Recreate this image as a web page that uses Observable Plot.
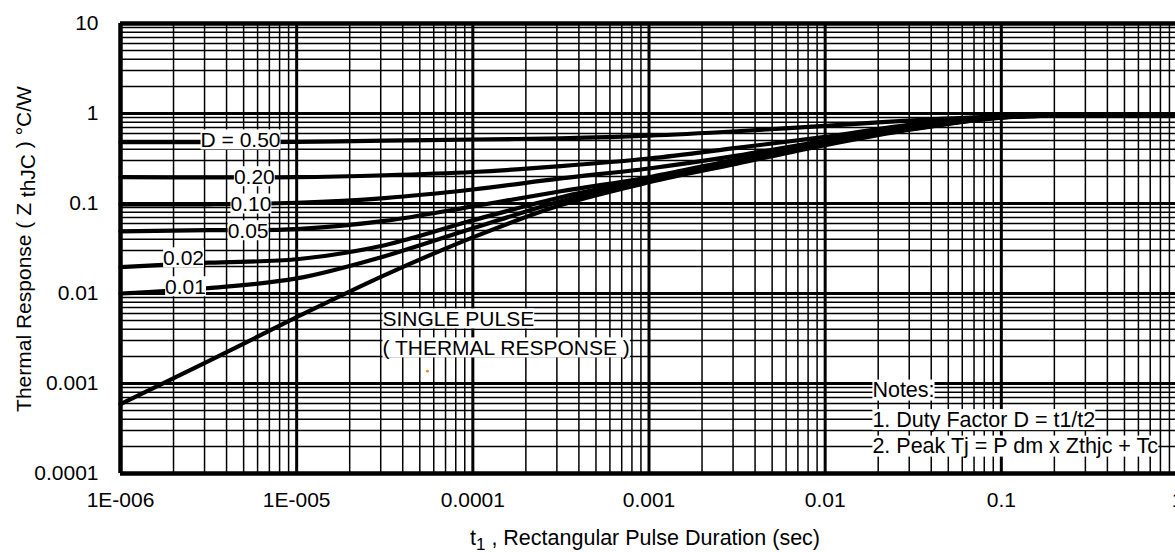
<!DOCTYPE html>
<html>
<head>
<meta charset="utf-8">
<script src="https://cdn.jsdelivr.net/npm/d3@7"></script>
<script src="https://cdn.jsdelivr.net/npm/@observablehq/plot@0.6"></script>
<style>
  html, body { margin: 0; padding: 0; background: #fff; overflow: hidden; }
  #chart { width: 1175px; height: 552px; overflow: hidden; }
</style>
</head>
<body>
<div id="chart"></div>
<script>
// ---- data ----
const tSec = [1e-6, 3.16e-6, 1e-5, 3.16e-5, 1e-4, 3.16e-4, 1e-3, 3.16e-3, 1e-2, 3.16e-2, 0.1, 0.316, 1];
const zD050 = [0.48, 0.48, 0.484, 0.50, 0.514, 0.53, 0.567, 0.635, 0.73, 0.84, 0.93, 0.955, 0.955];
const zD020 = [0.196, 0.195, 0.196, 0.206, 0.224, 0.26, 0.316, 0.415, 0.55, 0.76, 0.91, 0.955, 0.955];
const zD010 = [0.0975, 0.098, 0.102, 0.115, 0.143, 0.19, 0.245, 0.34, 0.50, 0.72, 0.91, 0.955, 0.955];
const zD005 = [0.049, 0.0505, 0.052, 0.064, 0.093, 0.137, 0.196, 0.31, 0.48, 0.70, 0.91, 0.955, 0.955];
const zD002 = [0.0196, 0.022, 0.024, 0.0344, 0.065, 0.1175, 0.186, 0.295, 0.468, 0.686, 0.91, 0.955, 0.955];
const zD001 = [0.01, 0.0115, 0.0147, 0.026, 0.053, 0.106, 0.177, 0.284, 0.457, 0.678, 0.905, 0.955, 0.955];
const zSingle = [0.00059, 0.00177, 0.00545, 0.016, 0.042, 0.096, 0.172, 0.277, 0.445, 0.669, 0.90, 0.955, 0.955];
const seriesNames = ["D = 0.50", "0.20", "0.10", "0.05", "0.02", "0.01", "SINGLE PULSE"];
const seriesValues = [zD050, zD020, zD010, zD005, zD002, zD001, zSingle];

// curve labels (text, anchor t, anchor Z)
const curveLabelText = ["D = 0.50", "0.20", "0.10", "0.05", "0.02", "0.01"];
const curveLabelT = [4.8e-6, 5.75e-6, 5.5e-6, 5.3e-6, 2.28e-6, 2.34e-6];
const curveLabelZ = [0.505, 0.197, 0.098, 0.0495, 0.0247, 0.0118];

// annotation texts
const singleText = ["SINGLE PULSE", "( THERMAL RESPONSE )"];
const singleT = [3.07e-5, 3.07e-5];
const singleZ = [0.00518, 0.00247];
const notesText = ["Notes:", "1. Duty Factor D = t1/t2", "2. Peak Tj = P dm x Zthjc + Tc"];
const notesT = [0.01854, 0.01854, 0.01854];
const notesZ = [0.000843, 0.000396, 0.000201];

// stray orange speck in the reference
const speckT = [5.52e-5];
const speckZ = [0.00137];

// axes
const xDecades = [1e-6, 1e-5, 1e-4, 1e-3, 1e-2, 1e-1, 1];
const xTickLabels = ["1E-006", "1E-005", "0.0001", "0.001", "0.01", "0.1", "1"];
const yDecades = [1e-4, 1e-3, 1e-2, 1e-1, 1, 10];
const yTickLabels = ["0.0001", "0.001", "0.01", "0.1", "1", "10"];

// ---- build tables ----
const rows = [];
seriesValues.forEach((vals, s) => vals.forEach((z, i) => rows.push({series: seriesNames[s], t: tSec[i], z})));
const curveLabels = curveLabelText.map((text, i) => ({text, t: curveLabelT[i], z: curveLabelZ[i]}));
const singleLabels = singleText.map((text, i) => ({text, t: singleT[i], z: singleZ[i]}));
const notes = notesText.map((text, i) => ({text, t: notesT[i], z: notesZ[i]}));
const speck = speckT.map((t, i) => ({t, z: speckZ[i]}));

const xMinor = [], yMinor = [];
for (let e = -6; e < 0; e++) for (let k = 2; k <= 9; k++) xMinor.push(k * Math.pow(10, e));
for (let e = -4; e < 1; e++) for (let k = 2; k <= 9; k++) yMinor.push(k * Math.pow(10, e));

const xFmt = new Map(xDecades.map((d, i) => [Math.round(Math.log10(d)), xTickLabels[i]]));
const yFmt = new Map(yDecades.map((d, i) => [Math.round(Math.log10(d)), yTickLabels[i]]));

const FONT = "'Liberation Sans', Arial, Helvetica, sans-serif";

const svg = Plot.plot({
  width: 1175,
  height: 552,
  marginTop: 23,
  marginBottom: 79,
  marginLeft: 120,
  marginRight: 0,
  style: {background: "white", color: "black", fontFamily: FONT, fontSize: "21px", overflow: "visible"},
  x: {type: "log", domain: [1e-6, 1], range: [120, 1177], ticks: xDecades,
      tickFormat: d => xFmt.get(Math.round(Math.log10(d))), tickSize: 0, tickPadding: 19, label: null},
  y: {type: "log", domain: [1e-4, 10], ticks: yDecades,
      tickFormat: d => yFmt.get(Math.round(Math.log10(d))), tickSize: 0, tickPadding: 22, label: null},
  marks: [
    Plot.ruleX(xMinor, {stroke: "black", strokeWidth: 1.5}),
    Plot.ruleY(yMinor, {stroke: "black", strokeWidth: 1.5}),
    Plot.ruleX(xDecades, {stroke: "black", strokeWidth: 3}),
    Plot.ruleY(yDecades, {stroke: "black", strokeWidth: 3}),
    Plot.ruleX([1e-6], {stroke: "black", strokeWidth: 4.5}),
    Plot.ruleY([1e-4, 10], {stroke: "black", strokeWidth: 4.5}),
    Plot.line(rows, {x: "t", y: "z", z: "series", curve: "catmull-rom", stroke: "black", strokeWidth: 4.2}),
    Plot.dot(speck, {x: "t", y: "z", r: 1.4, fill: "#f5821f", stroke: null}),
    Plot.text(curveLabels, {x: "t", y: "z", text: "text", textAnchor: "middle", fontSize: 21, fill: "black"}),
    Plot.text(singleLabels, {x: "t", y: "z", text: "text", textAnchor: "start", fontSize: 21, fill: "black"}),
    Plot.text(notes, {x: "t", y: "z", text: "text", textAnchor: "start", fontSize: 21.5, fill: "black"})
  ]
});

document.getElementById("chart").append(svg);

// white boxes behind annotation texts (the text marks)
const NS = "http://www.w3.org/2000/svg";
svg.querySelectorAll('g[aria-label="text"] text').forEach(t => {
  const b = t.getBBox();
  const r = document.createElementNS(NS, "rect");
  r.setAttribute("x", b.x);
  r.setAttribute("y", b.y + 1.5);
  r.setAttribute("width", b.width);
  r.setAttribute("height", b.height - 3);
  r.setAttribute("fill", "white");
  const tr = t.getAttribute("transform");
  if (tr) r.setAttribute("transform", tr);
  t.parentNode.insertBefore(r, t);
});

// axis titles
const s = d3.select(svg);
const yl = s.append("text")
  .attr("transform", "translate(31,249) rotate(-90)")
  .attr("text-anchor", "middle")
  .attr("font-family", FONT)
  .attr("font-size", 21)
  .attr("fill", "black");
yl.append("tspan").text("Thermal Response ( Z ");
yl.append("tspan").attr("dy", 4).text("thJC");
yl.append("tspan").attr("dy", -4).text(" ) °C/W");

const xl = s.append("text")
  .attr("x", 645).attr("y", 545)
  .attr("text-anchor", "middle")
  .attr("font-family", FONT)
  .attr("font-size", 21.5)
  .attr("fill", "black");
xl.append("tspan").text("t");
xl.append("tspan").attr("dy", 5).attr("font-size", 17).text("1");
xl.append("tspan").attr("dy", -5).text(" , Rectangular Pulse Duration (sec)");
</script>
</body>
</html>
